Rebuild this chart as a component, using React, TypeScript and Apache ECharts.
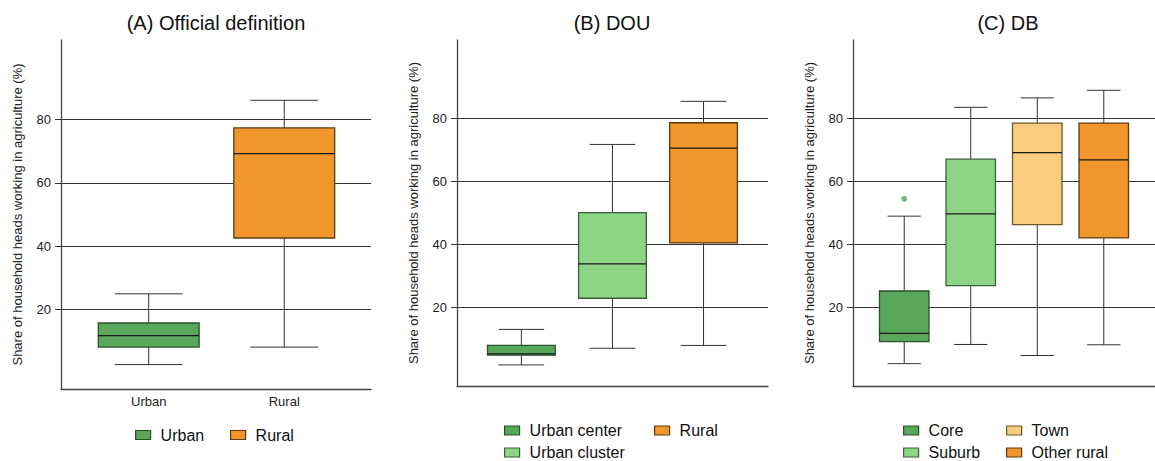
import React, { useEffect, useRef } from 'react';
import * as echarts from 'echarts';

// ---------- data ----------
const yTicks = [20, 40, 60, 80];
const axisTitle = 'Share of household heads working in agriculture (%)';
const titles = ['(A) Official definition', '(B) DOU', '(C) DB'];

// each box: [lower whisker, Q1, median, Q3, upper whisker]
const catsA = ['Urban', 'Rural'];
const boxesA = [
  [2.7, 8.2, 11.8, 15.8, 25.0],
  [8.2, 42.6, 69.2, 77.3, 86.0],
];

const catsB = ['Urban center', 'Urban cluster', 'Rural'];
const boxesB = [
  [1.7, 4.8, 5.2, 7.9, 13.0],
  [7.0, 22.9, 33.8, 50.1, 71.8],
  [7.9, 40.5, 70.6, 78.7, 85.5],
];

const catsC = ['Core', 'Suburb', 'Town', 'Other rural'];
const boxesC = [
  [2.1, 9.1, 11.7, 25.2, 49.0],
  [8.2, 26.9, 49.7, 67.1, 83.6],
  [4.7, 46.3, 69.2, 78.6, 86.6],
  [8.1, 42.1, 66.9, 78.6, 89.0],
];
// outliers: [category index, value]
const outliersC = [[0, 54.5]];

// ---------- styles ----------
const FONT = "'Liberation Sans', Arial, Helvetica, sans-serif";
const palette: Record<string, { fill: string; stroke: string }> = {
  Urban: { fill: '#5AA65B', stroke: '#2A522B' },
  'Urban center': { fill: '#5AA65B', stroke: '#2A522B' },
  Core: { fill: '#5AA65B', stroke: '#2A522B' },
  'Urban cluster': { fill: '#8ED487', stroke: '#3A6136' },
  Suburb: { fill: '#8ED487', stroke: '#3A6136' },
  Town: { fill: '#F9CC7E', stroke: '#6E5628' },
  Rural: { fill: '#F0962A', stroke: '#5E3A0E' },
  'Other rural': { fill: '#F0962A', stroke: '#5E3A0E' },
};

const BOX_W = 0.744;
const CAP_W = 0.5;

function makeRender(fill: string, stroke: string) {
  return (params: any, api: any) => {
    const x = api.value(0);
    const lo = api.coord([x, api.value(1)]);
    const q1 = api.coord([x, api.value(2)]);
    const md = api.coord([x, api.value(3)]);
    const q3 = api.coord([x, api.value(4)]);
    const hi = api.coord([x, api.value(5)]);
    const bw = api.size([BOX_W, 0])[0];
    const cw = api.size([CAP_W, 0])[0];
    const cx = lo[0];
    const wStyle = { stroke: '#333', lineWidth: 1 };
    return {
      type: 'group',
      children: [
        { type: 'line', shape: { x1: cx, y1: lo[1], x2: cx, y2: q1[1] }, style: wStyle },
        { type: 'line', shape: { x1: cx, y1: q3[1], x2: cx, y2: hi[1] }, style: wStyle },
        { type: 'line', shape: { x1: cx - cw / 2, y1: lo[1], x2: cx + cw / 2, y2: lo[1] }, style: wStyle },
        { type: 'line', shape: { x1: cx - cw / 2, y1: hi[1], x2: cx + cw / 2, y2: hi[1] }, style: wStyle },
        {
          type: 'rect',
          shape: { x: cx - bw / 2, y: q3[1], width: bw, height: q1[1] - q3[1] },
          style: { fill, stroke, lineWidth: 1.3 },
        },
        {
          type: 'line',
          shape: { x1: cx - bw / 2, y1: md[1], x2: cx + bw / 2, y2: md[1] },
          style: { stroke: '#1a1a1a', lineWidth: 1.3 },
        },
      ],
    };
  };
}

const panels = [
  { cats: catsA, boxes: boxesA, left: 61, top: 40, width: 310, height: 349, xmin: -0.647, xmax: 1.64, xLabels: true, titleX: 216 },
  { cats: catsB, boxes: boxesB, left: 457, top: 40, width: 311, height: 346, xmin: -0.707, xmax: 2.708, xLabels: false, titleX: 612 },
  { cats: catsC, boxes: boxesC, left: 853, top: 40, width: 311, height: 346, xmin: -0.77, xmax: 3.77, xLabels: false, titleX: 1008 },
];

const legendItems = [
  { name: 'Urban', left: 135, top: 427 },
  { name: 'Rural', left: 230, top: 427 },
  { name: 'Urban center', left: 504, top: 422.5 },
  { name: 'Urban cluster', left: 504, top: 444.5 },
  { name: 'Rural', left: 654, top: 422.5 },
  { name: 'Core', left: 903, top: 422.5 },
  { name: 'Suburb', left: 903, top: 444.5 },
  { name: 'Town', left: 1006, top: 422.5 },
  { name: 'Other rural', left: 1006, top: 444.5 },
];

function buildOption() {
  const axisLineStyle = { color: '#444', width: 1.3 };
  const grid = panels.map((p) => ({ left: p.left, top: p.top, width: p.width, height: p.height, containLabel: false }));
  const xAxis = panels.map((p, i) => ({
    gridIndex: i,
    type: 'value',
    min: p.xmin,
    max: p.xmax,
    axisLine: { show: true, onZero: false, lineStyle: axisLineStyle },
    axisTick: { show: false },
    splitLine: { show: false },
    axisLabel: p.xLabels
      ? {
          show: true,
          customValues: p.cats.map((_, k) => k),
          formatter: (v: number) => p.cats[Math.round(v)] ?? '',
          fontSize: 13,
          color: '#222',
          fontFamily: FONT,
          margin: 6,
        }
      : { show: false },
  }));
  const yAxis = panels.map((p, i) => ({
    gridIndex: i,
    type: 'value',
    min: -5,
    max: 105,
    name: axisTitle,
    nameLocation: 'middle',
    nameGap: 37,
    nameTextStyle: { fontSize: 13, color: '#222', fontFamily: FONT },
    axisLine: { show: true, onZero: false, lineStyle: axisLineStyle },
    axisTick: { show: true, length: 6, customValues: yTicks, lineStyle: { color: '#333', width: 1 } },
    axisLabel: { customValues: yTicks, fontSize: 13, color: '#222', fontFamily: FONT, margin: 10 },
    splitLine: { show: true, lineStyle: { color: '#333', width: 1 } },
  }));

  const series: any[] = [];
  panels.forEach((p, i) => {
    p.cats.forEach((c, k) => {
      const col = palette[c];
      series.push({
        type: 'custom',
        name: c,
        xAxisIndex: i,
        yAxisIndex: i,
        itemStyle: { color: col.fill, borderColor: col.stroke },
        encode: { x: 0, y: [1, 2, 3, 4, 5] },
        data: [[k, ...p.boxes[k]]],
        renderItem: makeRender(col.fill, col.stroke),
        clip: false,
      });
    });
  });
  series.push({
    type: 'scatter',
    xAxisIndex: 2,
    yAxisIndex: 2,
    symbol: 'circle',
    symbolSize: 6,
    itemStyle: { color: palette.Core.fill },
    data: outliersC,
  });

  const legend = legendItems.map((li) => ({
    orient: 'horizontal',
    left: li.left,
    top: li.top,
    padding: 0,
    itemWidth: 15,
    itemHeight: 9,
    selectedMode: false,
    textStyle: { fontSize: 16, color: '#111', fontFamily: FONT, lineHeight: 16, padding: [0, 0, 0, 5] },
    data: [
      {
        name: li.name,
        icon: 'rect',
        itemStyle: { color: palette[li.name].fill, borderColor: palette[li.name].stroke, borderWidth: 1.2 },
      },
    ],
  }));

  const title = panels.map((p, i) => ({
    text: titles[i],
    left: p.titleX,
    top: 13,
    textAlign: 'center',
    padding: 0,
    textStyle: { fontSize: 20, fontWeight: 'normal', color: '#111', fontFamily: FONT },
  }));

  return { animation: false, backgroundColor: '#ffffff', title, grid, xAxis, yAxis, legend, series };
}

export default function App() {
  const ref = useRef<HTMLDivElement>(null);
  useEffect(() => {
    if (!ref.current) return;
    const chart = echarts.init(ref.current, null, { renderer: 'svg' });
    chart.setOption(buildOption() as any);
    return () => chart.dispose();
  }, []);
  return <div ref={ref} style={{ position: 'absolute', left: 0, top: 0, width: 1155, height: 461 }} />;
}
